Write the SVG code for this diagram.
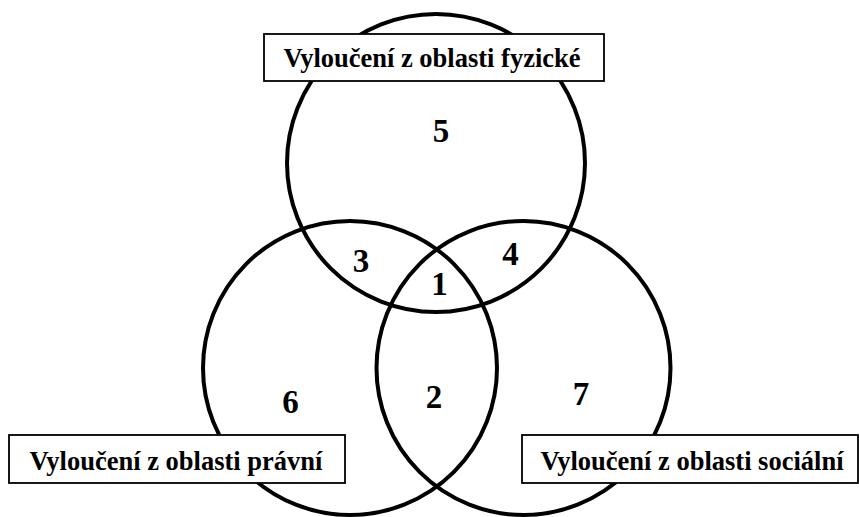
<svg xmlns="http://www.w3.org/2000/svg" width="859" height="517" viewBox="0 0 859 517">
<style>
.c{fill:none;stroke:#000;stroke-width:4}
.b{fill:#fff;stroke:#000;stroke-width:1.8}
.t{font-family:"Liberation Serif","Times New Roman",serif;font-weight:bold;font-size:26.5px;text-anchor:middle;fill:#000}
.n{font-family:"Liberation Serif","Times New Roman",serif;font-weight:bold;font-size:33px;text-anchor:middle;fill:#000}
</style>
<rect width="859" height="517" fill="#fff"/>
<g id="circles">
<circle id="c-fyz" class="c" cx="436" cy="163" r="149"/>
<circle id="c-prav" class="c" cx="350" cy="368" r="147"/>
<circle id="c-soc" class="c" cx="523.5" cy="368" r="147"/>
</g>
<g id="numbers">
<text class="n" x="441" y="142">5</text>
<text class="n" x="361" y="272">3</text>
<text class="n" x="439.5" y="295">1</text>
<text class="n" x="510.5" y="265">4</text>
<text class="n" x="290.5" y="413">6</text>
<text class="n" x="434" y="408">2</text>
<text class="n" x="581" y="405">7</text>
</g>
<g id="label-fyz">
<rect class="b" x="264" y="34" width="340" height="47"/>
<text class="t" x="432" y="67">Vyloučení z oblasti fyzické</text>
</g>
<g id="label-prav">
<rect class="b" x="9" y="435" width="336" height="48"/>
<text class="t" x="176" y="470">Vyloučení z oblasti právní</text>
</g>
<g id="label-soc">
<rect class="b" x="522" y="435" width="336" height="48"/>
<text class="t" x="692" y="470">Vyloučení z oblasti sociální</text>
</g>
</svg>
